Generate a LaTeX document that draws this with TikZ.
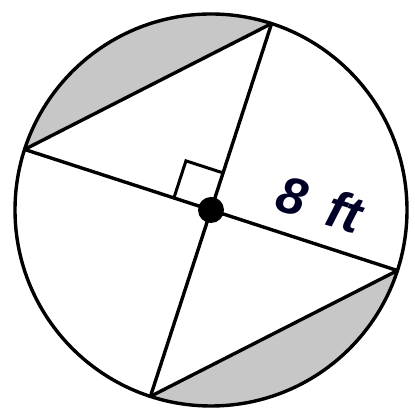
\documentclass[tikz,border=0pt]{standalone}
\usepackage{fontspec}
\newfontfamily\lblfont{Liberation Sans}
\usetikzlibrary{calc}
\begin{document}
\begin{tikzpicture}[x=1pt,y=1pt,
  edge/.style={line width=3.4pt,black,line cap=round,line join=round},
  shade/.style={fill=black!22},
  lbl/.style={font=\lblfont\bfseries\itshape\fontsize{52}{52}\selectfont,text=black!85!blue,inner sep=0pt}]
\useasboundingbox (0,0) rectangle (415,414);
\coordinate (O) at (211,204);
\def\R{196}
\coordinate (A) at ($(O)+(72:\R)$);
\coordinate (B) at ($(O)+(162:\R)$);
\coordinate (C) at ($(O)+(252:\R)$);
\coordinate (D) at ($(O)+(342:\R)$);
\coordinate (Q1) at ($(O)+(72:39)$);
\coordinate (Q2) at ($(O)+(72:39)+(162:39)$);
\coordinate (Q3) at ($(O)+(162:39)$);
% shaded segments
\fill[shade] (A) arc[start angle=72,end angle=162,radius=\R] -- cycle;
\fill[shade] (C) arc[start angle=252,end angle=342,radius=\R] -- cycle;
% circle
\draw[edge] (O) circle[radius=\R];
% chords
\draw[edge] (A) -- (B);
\draw[edge] (C) -- (D);
% diameters
\draw[edge] (A) -- (C);
\draw[edge] (B) -- (D);
% right angle mark
\draw[line width=3pt,line join=miter] (Q1) -- (Q2) -- (Q3);
% center dot
\fill (O) circle[radius=13];
% label
\node[lbl,rotate=-16] (len) at (320,210) {8\hspace{0.45em}ft};
\end{tikzpicture}
\end{document}
